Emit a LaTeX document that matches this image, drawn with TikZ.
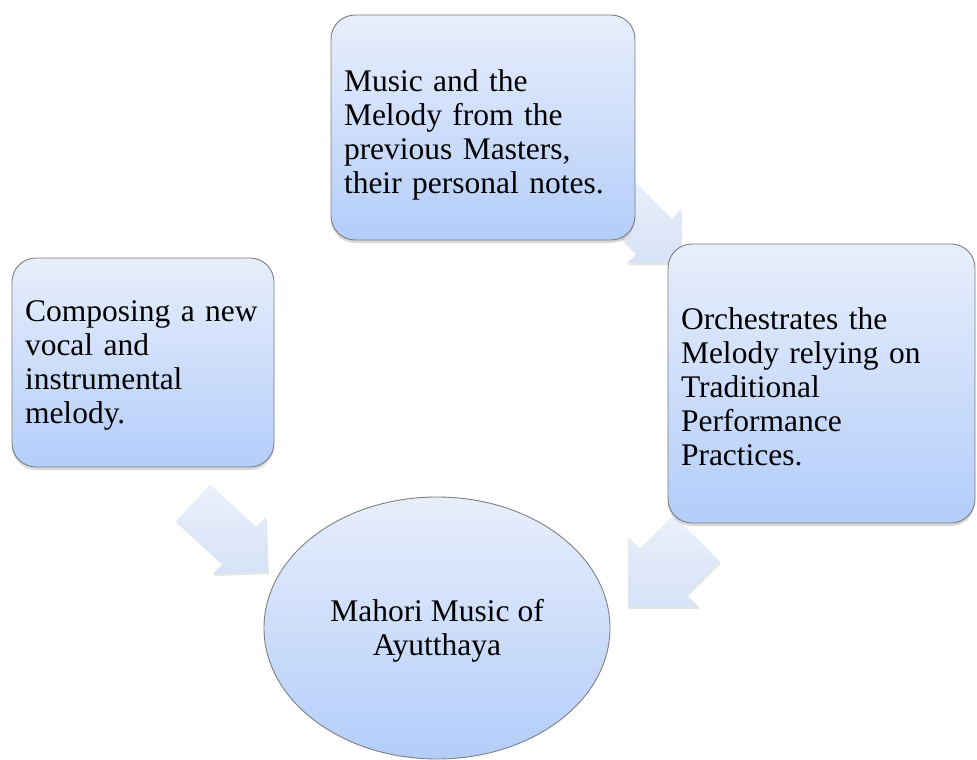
\documentclass[tikz,border=0pt]{standalone}
\usepackage{fontspec}
\setmainfont{Liberation Serif}
\usetikzlibrary{positioning, shapes.geometric, shadows}

\definecolor{boxtop}{HTML}{E8EEFB}
\definecolor{boxbot}{HTML}{B3CDFA}
\definecolor{boxline}{HTML}{7F7F7F}
\definecolor{arrtop}{HTML}{EBF0FB}
\definecolor{arrbot}{HTML}{D6E2F6}

% invisible strut that lowers the text block a little
\newcommand{\lowerby}[1]{\rule{0pt}{#1}}

\begin{document}
\begin{tikzpicture}[x=1pt, y=-1pt,
    txt/.style = {font=\fontsize{31.5}{34}\selectfont},
    box/.style = {txt, draw=boxline, line width=0.9pt, rounded corners=24pt,
        top color=boxtop, bottom color=boxbot, align=left, inner xsep=13pt,
        drop shadow={shadow xshift=0pt, shadow yshift=-3pt, opacity=0.3}},
    hub/.style = {txt, ellipse, draw=boxline, line width=0.9pt, inner sep=0pt,
        top color=boxtop, bottom color=boxbot, align=center,
        minimum width=346pt, minimum height=262pt},
    bigarrow/.style = {top color=arrtop, bottom color=arrbot,
        drop shadow={shadow xshift=1pt, shadow yshift=-2pt, opacity=0.2}}]
    \useasboundingbox (0,0) rectangle (977,760);

    % block arrows (behind the boxes)
    \coordinate (tailTop) at (610.3,192.3);
    \coordinate (tailLeft) at (193,502.8);
    \coordinate (tailRight) at (696.6,538.4);
    \shade[bigarrow, shift={(tailTop)}, rotate=-45]
        (0,-25) -- (62,-25) -- (62,-38) -- (100,0) -- (62,38) -- (62,25) -- (0,25) -- cycle;
    \shade[bigarrow, shift={(tailLeft)}, rotate=-42.7]
        (0,-25) -- (63,-25) -- (63,-39) -- (102,0) -- (63,39) -- (63,25) -- (0,25) -- cycle;
    \shade[bigarrow, shift={(tailRight)}, rotate=-135]
        (0,-33) -- (47,-33) -- (47,-50) -- (97,0) -- (47,50) -- (47,33) -- (0,33) -- cycle;

    % boxes
    \node[box, text width=278pt, minimum height=225pt] (masters) at (483,127.5)
        {\lowerby{37pt}Music and the\\ Melody from the\\ previous Masters,\\ their personal notes.};
    \node[box, text width=236pt, minimum height=209pt] (compose) at (143,362.5)
        {\lowerby{27pt}Composing a new\\ vocal and\\ instrumental\\ melody.};
    \node[box, text width=281pt, minimum height=279pt] (orch) at (821.5,383.5)
        {\lowerby{29pt}Orchestrates the\\ Melody relying on\\ Traditional\\ Performance\\ Practices.};
    \node[hub] (mahori) at (437,628) {\lowerby{27pt}Mahori Music of\\ Ayutthaya};
\end{tikzpicture}
\end{document}
